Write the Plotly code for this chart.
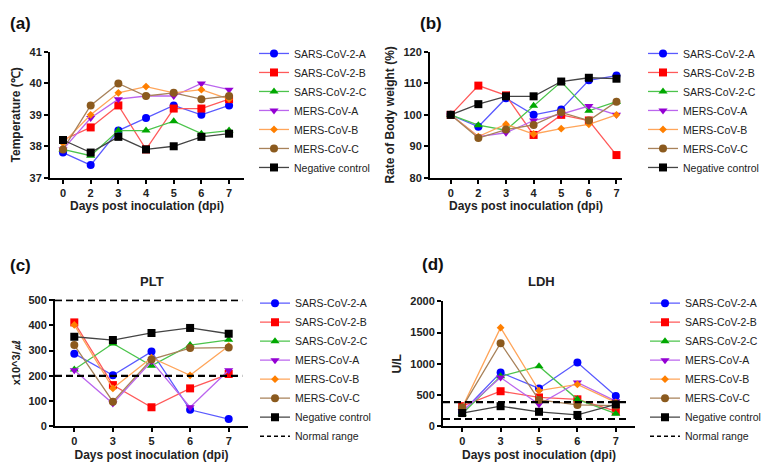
import plotly.graph_objects as go

days_ab = ["0", "2", "3", "4", "5", "6", "7"]
days_cd = ["0", "3", "5", "6", "7"]

groups = ["SARS-CoV-2-A", "SARS-CoV-2-B", "SARS-CoV-2-C",
          "MERS-CoV-A", "MERS-CoV-B", "MERS-CoV-C", "Negative control"]

# (a) temperature
temp = [
    [37.8, 37.4, 38.5, 38.9, 39.3, 39.0, 39.3],
    [38.2, 38.6, 39.3, 37.9, 39.2, 39.2, 39.5],
    [37.9, 37.7, 38.5, 38.5, 38.8, 38.4, 38.5],
    [37.9, 38.9, 39.5, 39.6, 39.6, 40.0, 39.8],
    [38.1, 39.0, 39.7, 39.9, 39.7, 39.8, 39.5],
    [37.9, 39.3, 40.0, 39.6, 39.7, 39.5, 39.6],
    [38.2, 37.8, 38.3, 37.9, 38.0, 38.3, 38.4],
]
# (b) body weight
weight = [
    [100, 96.2, 105.3, 100.0, 101.7, 111.0, 112.5],
    [100, 109.3, 106.2, 93.6, 100.0, 98.2, 87.2],
    [100, 96.7, 95.1, 102.9, 110.5, 101.3, 104.2],
    [100, 93.1, 94.3, 98.2, 100.2, 102.8, 100.0],
    [100, 93.1, 97.0, 93.9, 95.6, 97.0, 100.0],
    [100, 92.6, 95.3, 96.8, 100.8, 98.2, 104.2],
    [100, 103.4, 105.9, 105.9, 110.6, 111.8, 111.5],
]
# (c) PLT
plt_vals = [
    [288, 202, 296, 65, 28],
    [412, 163, 75, 150, 207],
    [225, 328, 240, 322, 343],
    [222, 90, 258, 75, 222],
    [402, 150, 272, 202, 318],
    [322, 97, 265, 310, 312],
    [355, 342, 370, 390, 367],
]
# (d) LDH
ldh_vals = [
    [225, 860, 605, 1020, 485],
    [320, 560, 460, 430, 240],
    [200, 800, 960, 430, 200],
    [240, 780, 350, 700, 400],
    [300, 1580, 570, 670, 380],
    [300, 1330, 420, 340, 330],
    [210, 320, 230, 180, 350],
]
plt_normal = [200, 500]
ldh_normal = [115, 385]

marker_colors = ["#0000ff", "#ff0000", "#00a800", "#9400d3", "#ff7f00", "#8b5a1e", "#000000"]
line_colors = ["#5a5aff", "#ff5a5a", "#4cc44c", "#bb66ee", "#ffa55a", "#a8825a", "#444444"]
symbols = ["circle", "square", "triangle-up", "triangle-down", "diamond", "circle", "square"]
sizes = [8, 8, 8, 8, 6, 8, 8]

FONT = "Arial, Liberation Sans, sans-serif"
# page body has an 8px margin, so the figure is 8px smaller than the window
OFF = 8
W, H = 773 - OFF, 476 - OFF

fig = go.Figure()

panels = [
    ("x", "y", "legend", days_ab, temp),
    ("x2", "y2", "legend2", days_ab, weight),
    ("x3", "y3", "legend3", days_cd, plt_vals),
    ("x4", "y4", "legend4", days_cd, ldh_vals),
]
for xa, ya, lg, days, data in panels:
    for i, name in enumerate(groups):
        fig.add_trace(go.Scatter(
            x=days, y=data[i], name=name, mode="lines+markers",
            xaxis=xa, yaxis=ya, legend=lg, cliponaxis=False,
            line=dict(color=line_colors[i], width=1.3),
            marker=dict(color=marker_colors[i], symbol=symbols[i], size=sizes[i],
                        line=dict(width=0)),
        ))

for xa, ya, lg in [("x3", "y3", "legend3"), ("x4", "y4", "legend4")]:
    fig.add_trace(go.Scatter(x=[None], y=[None], name="Normal range", mode="lines",
                             xaxis=xa, yaxis=ya, legend=lg,
                             line=dict(color="black", width=1.5, dash="4px,3px")))

for v in plt_normal:
    fig.add_shape(type="line", xref="x3 domain", yref="y3", x0=0, x1=0.97, y0=v, y1=v,
                  line=dict(color="black", width=2.2, dash="7px,4px"))
for v in ldh_normal:
    fig.add_shape(type="line", xref="x4 domain", yref="y4", x0=0, x1=0.97, y0=v, y1=v,
                  line=dict(color="black", width=2.2, dash="7px,4px"))


def px_x(p):
    return (p - OFF) / W


def px_y(p):
    return 1 - (p - OFF) / H


axis_common = dict(showline=True, linecolor="black", linewidth=2, ticks="outside",
                   ticklen=4, tickwidth=2, tickcolor="black", showgrid=False,
                   zeroline=False,
                   tickfont=dict(family=FONT, size=11, color="#222", weight="bold"))
xtitle = dict(text="Days post inoculation (dpi)",
              font=dict(family=FONT, size=12, color="#222", weight="bold"), standoff=4)
ytfont = dict(family=FONT, size=12, color="#222", weight="bold")

fig.update_layout(
    width=W, height=H, margin=dict(l=0, r=0, t=0, b=0),
    plot_bgcolor="white", paper_bgcolor="white",
    font=dict(family=FONT, color="#222"),
    xaxis=dict(axis_common, type="category", domain=[px_x(50), px_x(244)],
               range=[-0.47, 6.54], anchor="y", title=xtitle),
    yaxis=dict(axis_common, domain=[px_y(176), px_y(47)], range=[37, 41], dtick=1,
               anchor="x", title=dict(text="Temperature (℃)", standoff=6, font=ytfont)),
    xaxis2=dict(axis_common, type="category", domain=[px_x(430), px_x(622)],
                range=[-0.75, 6.2], anchor="y2", title=xtitle),
    yaxis2=dict(axis_common, domain=[px_y(176), px_y(47)], range=[80, 120], dtick=10,
                anchor="x2", title=dict(text="Rate of Body weight (%)", standoff=6, font=ytfont)),
    xaxis3=dict(axis_common, type="category", domain=[px_x(55), px_x(248)],
                range=[-0.5, 4.5], anchor="y3", title=xtitle),
    yaxis3=dict(axis_common, domain=[px_y(431), px_y(301)], range=[0, 503], tickvals=[0, 100, 200, 300, 400, 500],
                anchor="x3",
                title=dict(text="x10^3/㎕", standoff=6,
                           font=dict(family=FONT, size=11, color="#222", weight="bold"))),
    xaxis4=dict(axis_common, type="category", domain=[px_x(443), px_x(635)],
                range=[-0.5, 4.5], anchor="y4", title=xtitle),
    yaxis4=dict(axis_common, domain=[px_y(431), px_y(303)], range=[0, 2000], dtick=500,
                anchor="x4", title=dict(text="U/L", standoff=6, font=ytfont)),
)

legend_style = dict(font=dict(family=FONT, size=10.5, color="#222"), bgcolor="rgba(0,0,0,0)",
                    xanchor="left", yanchor="middle", tracegroupgap=0, itemwidth=30)
fig.update_layout(
    legend=dict(legend_style, x=px_x(254), y=px_y(107)),
    legend2=dict(legend_style, x=px_x(643), y=px_y(107)),
    legend3=dict(legend_style, x=px_x(255), y=px_y(373)),
    legend4=dict(legend_style, x=px_x(645), y=px_y(373)),
)

label_font = dict(family=FONT, size=17, color="#111", weight="bold")
for txt, x, y in [("(a)", 8, 18), ("(b)", 418, 18), ("(c)", 8, 266), ("(d)", 420, 265)]:
    fig.add_annotation(text=txt, x=px_x(x), y=px_y(y), xref="paper", yref="paper",
                       showarrow=False, xanchor="left", yanchor="middle", font=label_font)
for txt, x, y in [("PLT", 152, 283), ("LDH", 541, 283)]:
    fig.add_annotation(text=txt, x=px_x(x), y=px_y(y), xref="paper", yref="paper",
                       showarrow=False, xanchor="center", yanchor="middle",
                       font=dict(family=FONT, size=13, color="#222", weight="bold"))

fig.write_html("out.html")
